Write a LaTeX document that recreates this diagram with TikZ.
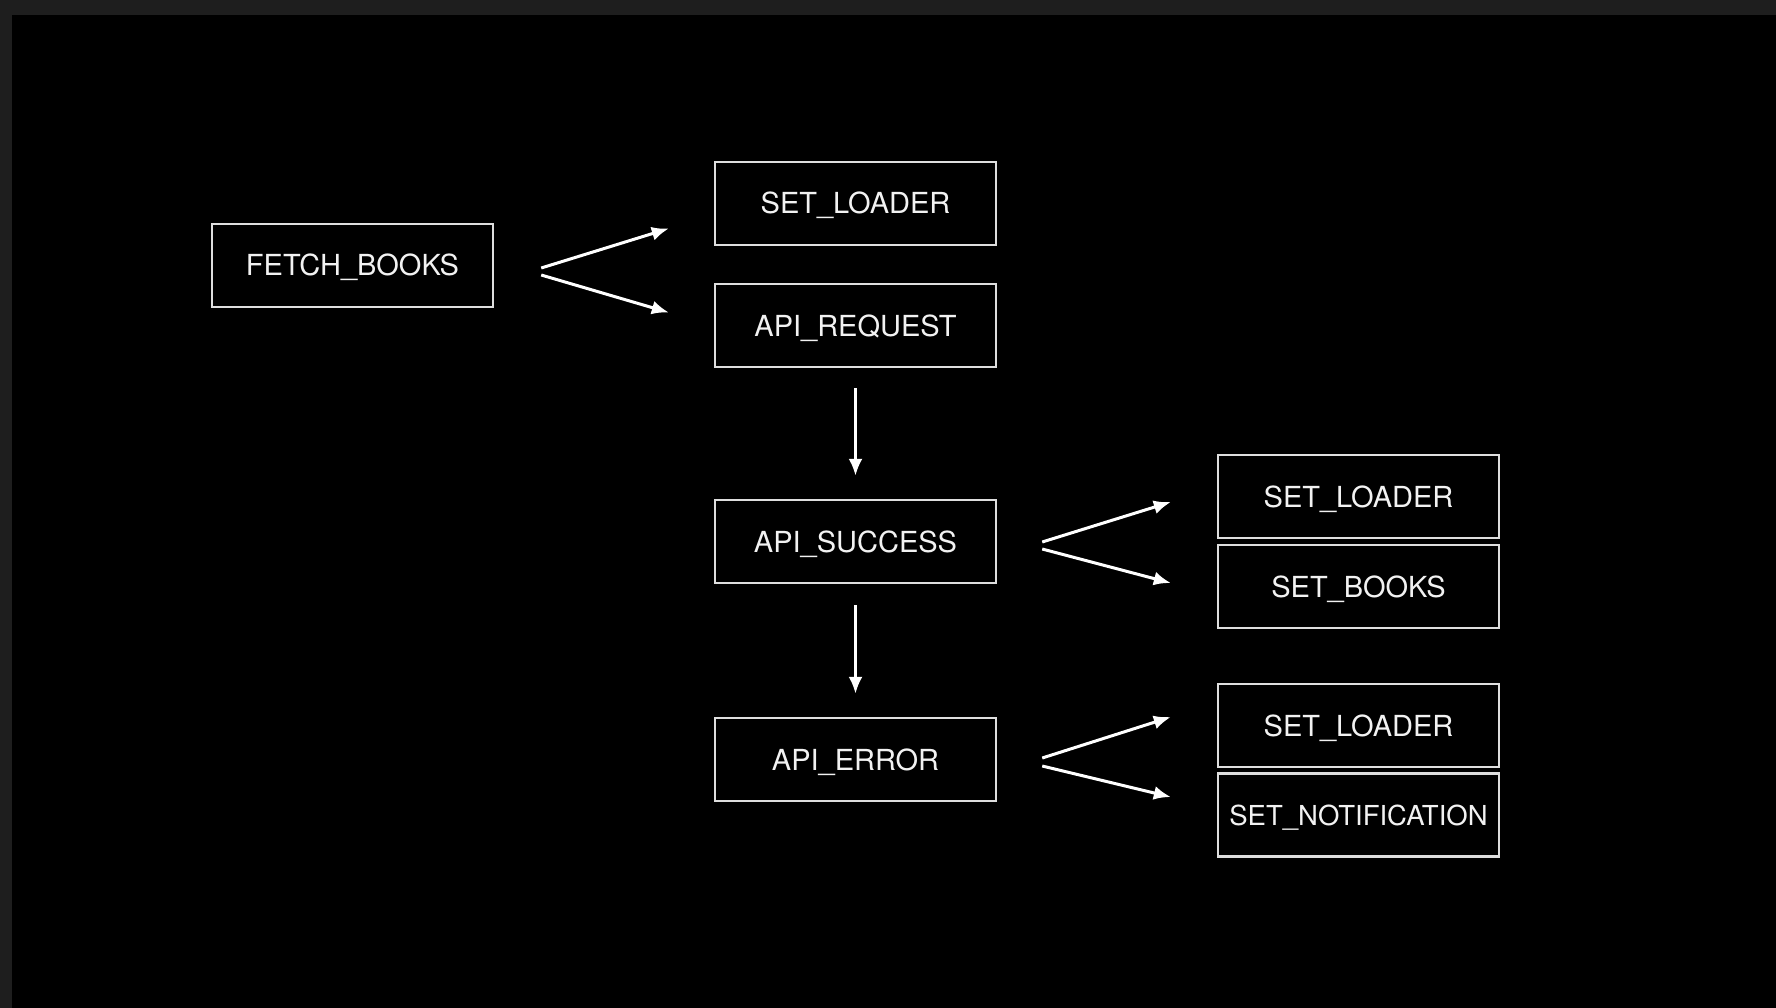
\documentclass[tikz,border=0pt]{standalone}
\usepackage{fontspec}
\setmainfont{TeX Gyre Heros}
\usetikzlibrary{arrows.meta,calc}
\definecolor{frame}{HTML}{1E1E1E}
\definecolor{boxline}{HTML}{DEDEDE}
\definecolor{txt}{HTML}{F2F2F2}
\begin{document}
\begin{tikzpicture}[x=1pt,y=-1pt,
  actbox/.style={draw=boxline, line width=2.4pt, text=txt, minimum width=281pt, minimum height=83pt, inner sep=0pt, text height=21pt, text depth=0pt, font=\fontsize{29}{34}\selectfont},
  flow/.style={draw=white, line width=3pt, -{Latex[length=17pt,width=14pt]}}]
\useasboundingbox (0,0) rectangle (1776,1008);
\fill[frame] (0,0) rectangle (1776,1008);
\fill[black] (12,15) rectangle (1776,1008);

\node[actbox] (fetch) at (352.5,265.5) {FETCH\_BOOKS};
\node[actbox] (sl1) at (855.5,203.5) {SET\_LOADER};
\node[actbox] (req) at (855.5,325.5) {API\_REQUEST};
\node[actbox] (succ) at (855.5,541.5) {API\_SUCCESS};
\node[actbox] (err) at (855.5,759.5) {API\_ERROR};
\node[actbox] (sl2) at (1358.5,496.5) {SET\_LOADER};
\node[actbox] (books) at (1358.5,586.5) {SET\_BOOKS};
\node[actbox] (sl3) at (1358.5,725.5) {SET\_LOADER};
\node[actbox, font=\fontsize{27.5}{32}\selectfont, text height=20pt] (notif) at (1358.5,815) {SET\_NOTIFICATION};

% fork from FETCH_BOOKS
\coordinate (fA1) at ($(fetch.east)+(47,2.5)$);
\coordinate (fB1) at ($(fetch.east)+(47,9.5)$);
\coordinate (fA2) at ($(sl1.west)+(-45,25)$);
\coordinate (fB2) at ($(req.west)+(-45,-13)$);
\draw[flow] (fA1) -- (fA2);
\draw[flow] (fB1) -- (fB2);

% fork from API_SUCCESS
\coordinate (sA1) at ($(succ.east)+(45,0.5)$);
\coordinate (sB1) at ($(succ.east)+(45,7.5)$);
\coordinate (sA2) at ($(sl2.west)+(-46,5.5)$);
\coordinate (sB2) at ($(books.west)+(-46,-3.5)$);
\draw[flow] (sA1) -- (sA2);
\draw[flow] (sB1) -- (sB2);

% fork from API_ERROR
\coordinate (eA1) at ($(err.east)+(45,-1.5)$);
\coordinate (eB1) at ($(err.east)+(45,6.5)$);
\coordinate (eA2) at ($(sl3.west)+(-46,-8.5)$);
\coordinate (eB2) at ($(notif.west)+(-46,-18)$);
\draw[flow] (eA1) -- (eA2);
\draw[flow] (eB1) -- (eB2);

% vertical arrows
\draw[flow, shorten <=20pt, shorten >=23pt] (req.south) -- (succ.north);
\draw[flow, shorten <=21pt, shorten >=23pt] (succ.south) -- (err.north);
\end{tikzpicture}
\end{document}
